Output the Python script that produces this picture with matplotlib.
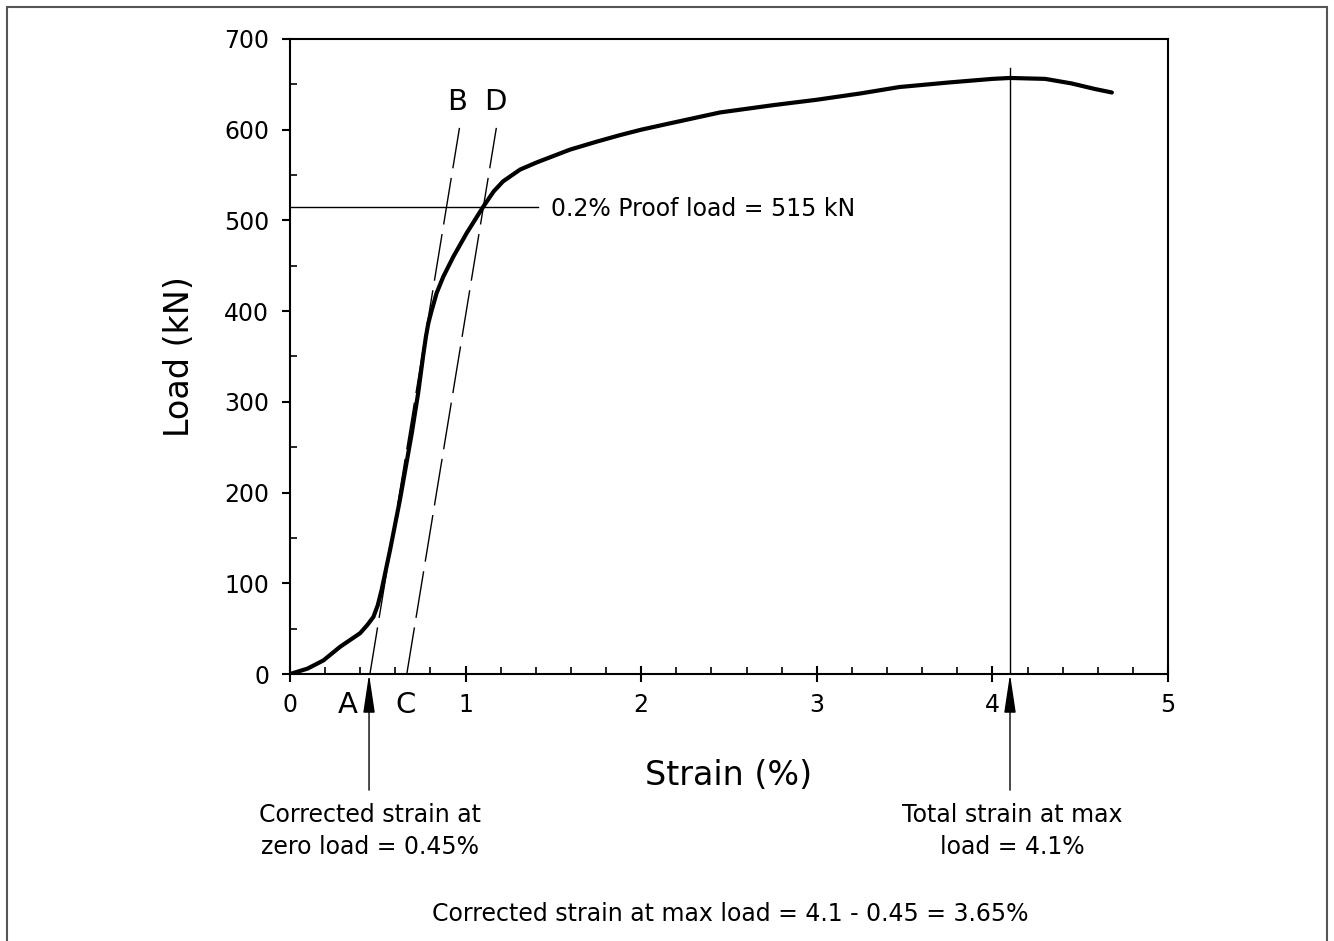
import matplotlib
matplotlib.use("Agg")
import matplotlib.pyplot as plt
from matplotlib.patches import Rectangle

plt.rcParams['font.family'] = ['DejaVu Sans']

# ---- data ----
strain = [0.0, 0.1, 0.19, 0.285, 0.399, 0.44, 0.475, 0.50, 0.522, 0.57, 0.626,
          0.693, 0.73, 0.759, 0.774, 0.788, 0.807, 0.835, 0.873, 0.93, 1.006,
          1.10, 1.16, 1.213, 1.31, 1.406, 1.5, 1.594, 1.75, 1.879, 2.0, 2.164,
          2.449, 2.75, 3.0, 3.25, 3.47, 3.75, 4.0, 4.1, 4.3, 4.45, 4.58, 4.68]
load = [0, 6, 15, 30, 45, 54, 63, 76, 93, 137, 192,
        265, 310, 352, 372, 387, 401, 420, 438, 460, 486,
        515, 532, 543, 556, 564, 571, 578, 587, 594, 600, 607,
        619, 627, 633, 640, 647, 652, 656, 657, 656, 651, 645, 641]

line_B_strain = [0.455, 0.965]
line_D_strain = [0.665, 1.175]
line_BD_load = [0, 602]

proof_load = 515
proof_line_strain = [0.0, 1.41]
max_strain = 4.1
max_line_top = 668
zero_strain = 0.45

xticks = [0, 1, 2, 3, 4, 5]
yticks = [0, 100, 200, 300, 400, 500, 600, 700]

fig = plt.figure(figsize=(13.34, 9.41), dpi=100)
ax = fig.add_axes([0.2174, 0.2837, 0.6582, 0.6749])

ax.plot(strain, load, color='black', lw=3.0, solid_capstyle='round',
        solid_joinstyle='round', zorder=5)
ax.plot(line_B_strain, line_BD_load, color='black', lw=1.0, dashes=(34, 7))
ax.plot(line_D_strain, line_BD_load, color='black', lw=1.0, dashes=(34, 7))
ax.plot(proof_line_strain, [proof_load, proof_load], color='black', lw=1.0)
ax.plot([max_strain, max_strain], [0, max_line_top], color='black', lw=1.0)

# arrows below axis
for s in (zero_strain, max_strain):
    ax.annotate('', xy=(s, 0), xytext=(s, -128), xycoords='data',
                arrowprops=dict(arrowstyle='-|>,head_length=2.4,head_width=0.36',
                                color='black', lw=1.0, shrinkA=0, shrinkB=0),
                annotation_clip=False)

fs = 17
ax.text(1.486, 513, '0.2% Proof load = 515 kN', fontsize=fs, va='center', ha='left')
ax.text(0.95, 631, 'B', fontsize=21, ha='center', va='center')
ax.text(1.167, 631, 'D', fontsize=21, ha='center', va='center')
ax.text(0.33, -34, 'A', fontsize=21, ha='center', va='center', clip_on=False)
ax.text(0.66, -34, 'C', fontsize=21, ha='center', va='center', clip_on=False)

ax.set_xlim(0, 5)
ax.set_ylim(0, 700)
ax.set_xticks(xticks)
ax.set_yticks(yticks)
ax.set_xticks([i * 0.2 for i in range(26)], minor=True)
ax.set_yticks([i * 50 for i in range(15)], minor=True)
ax.tick_params(axis='x', which='major', direction='inout', length=12, width=1.5,
               labelsize=fs, pad=8)
ax.tick_params(axis='y', which='major', direction='out', length=6, width=1.5,
               labelsize=fs, pad=9)
ax.tick_params(which='minor', direction='in', length=5, width=1.2)
ax.tick_params(top=False, right=False, which='both')
for sp in ax.spines.values():
    sp.set_linewidth(1.5)

ax.set_xlabel('Strain (%)', fontsize=24, labelpad=30)
ax.set_ylabel('Load (kN)', fontsize=24, labelpad=20)

fig.text(370 / 1334, 1 - 831 / 941, 'Corrected strain at\nzero load = 0.45%',
         fontsize=fs, ha='center', va='center', linespacing=1.45)
fig.text(1012 / 1334, 1 - 831 / 941, 'Total strain at max\nload = 4.1%',
         fontsize=fs, ha='center', va='center', linespacing=1.45)
fig.text(730 / 1334, 1 - 914 / 941, 'Corrected strain at max load = 4.1 - 0.45 = 3.65%',
         fontsize=fs, ha='center', va='center')

fig.patches.append(Rectangle((7 / 1334, -0.05), 1320 / 1334, 1.05 - 7 / 941,
                             transform=fig.transFigure, fill=False,
                             edgecolor='#555555', lw=1.5))

fig.savefig('out.png', dpi=100)
